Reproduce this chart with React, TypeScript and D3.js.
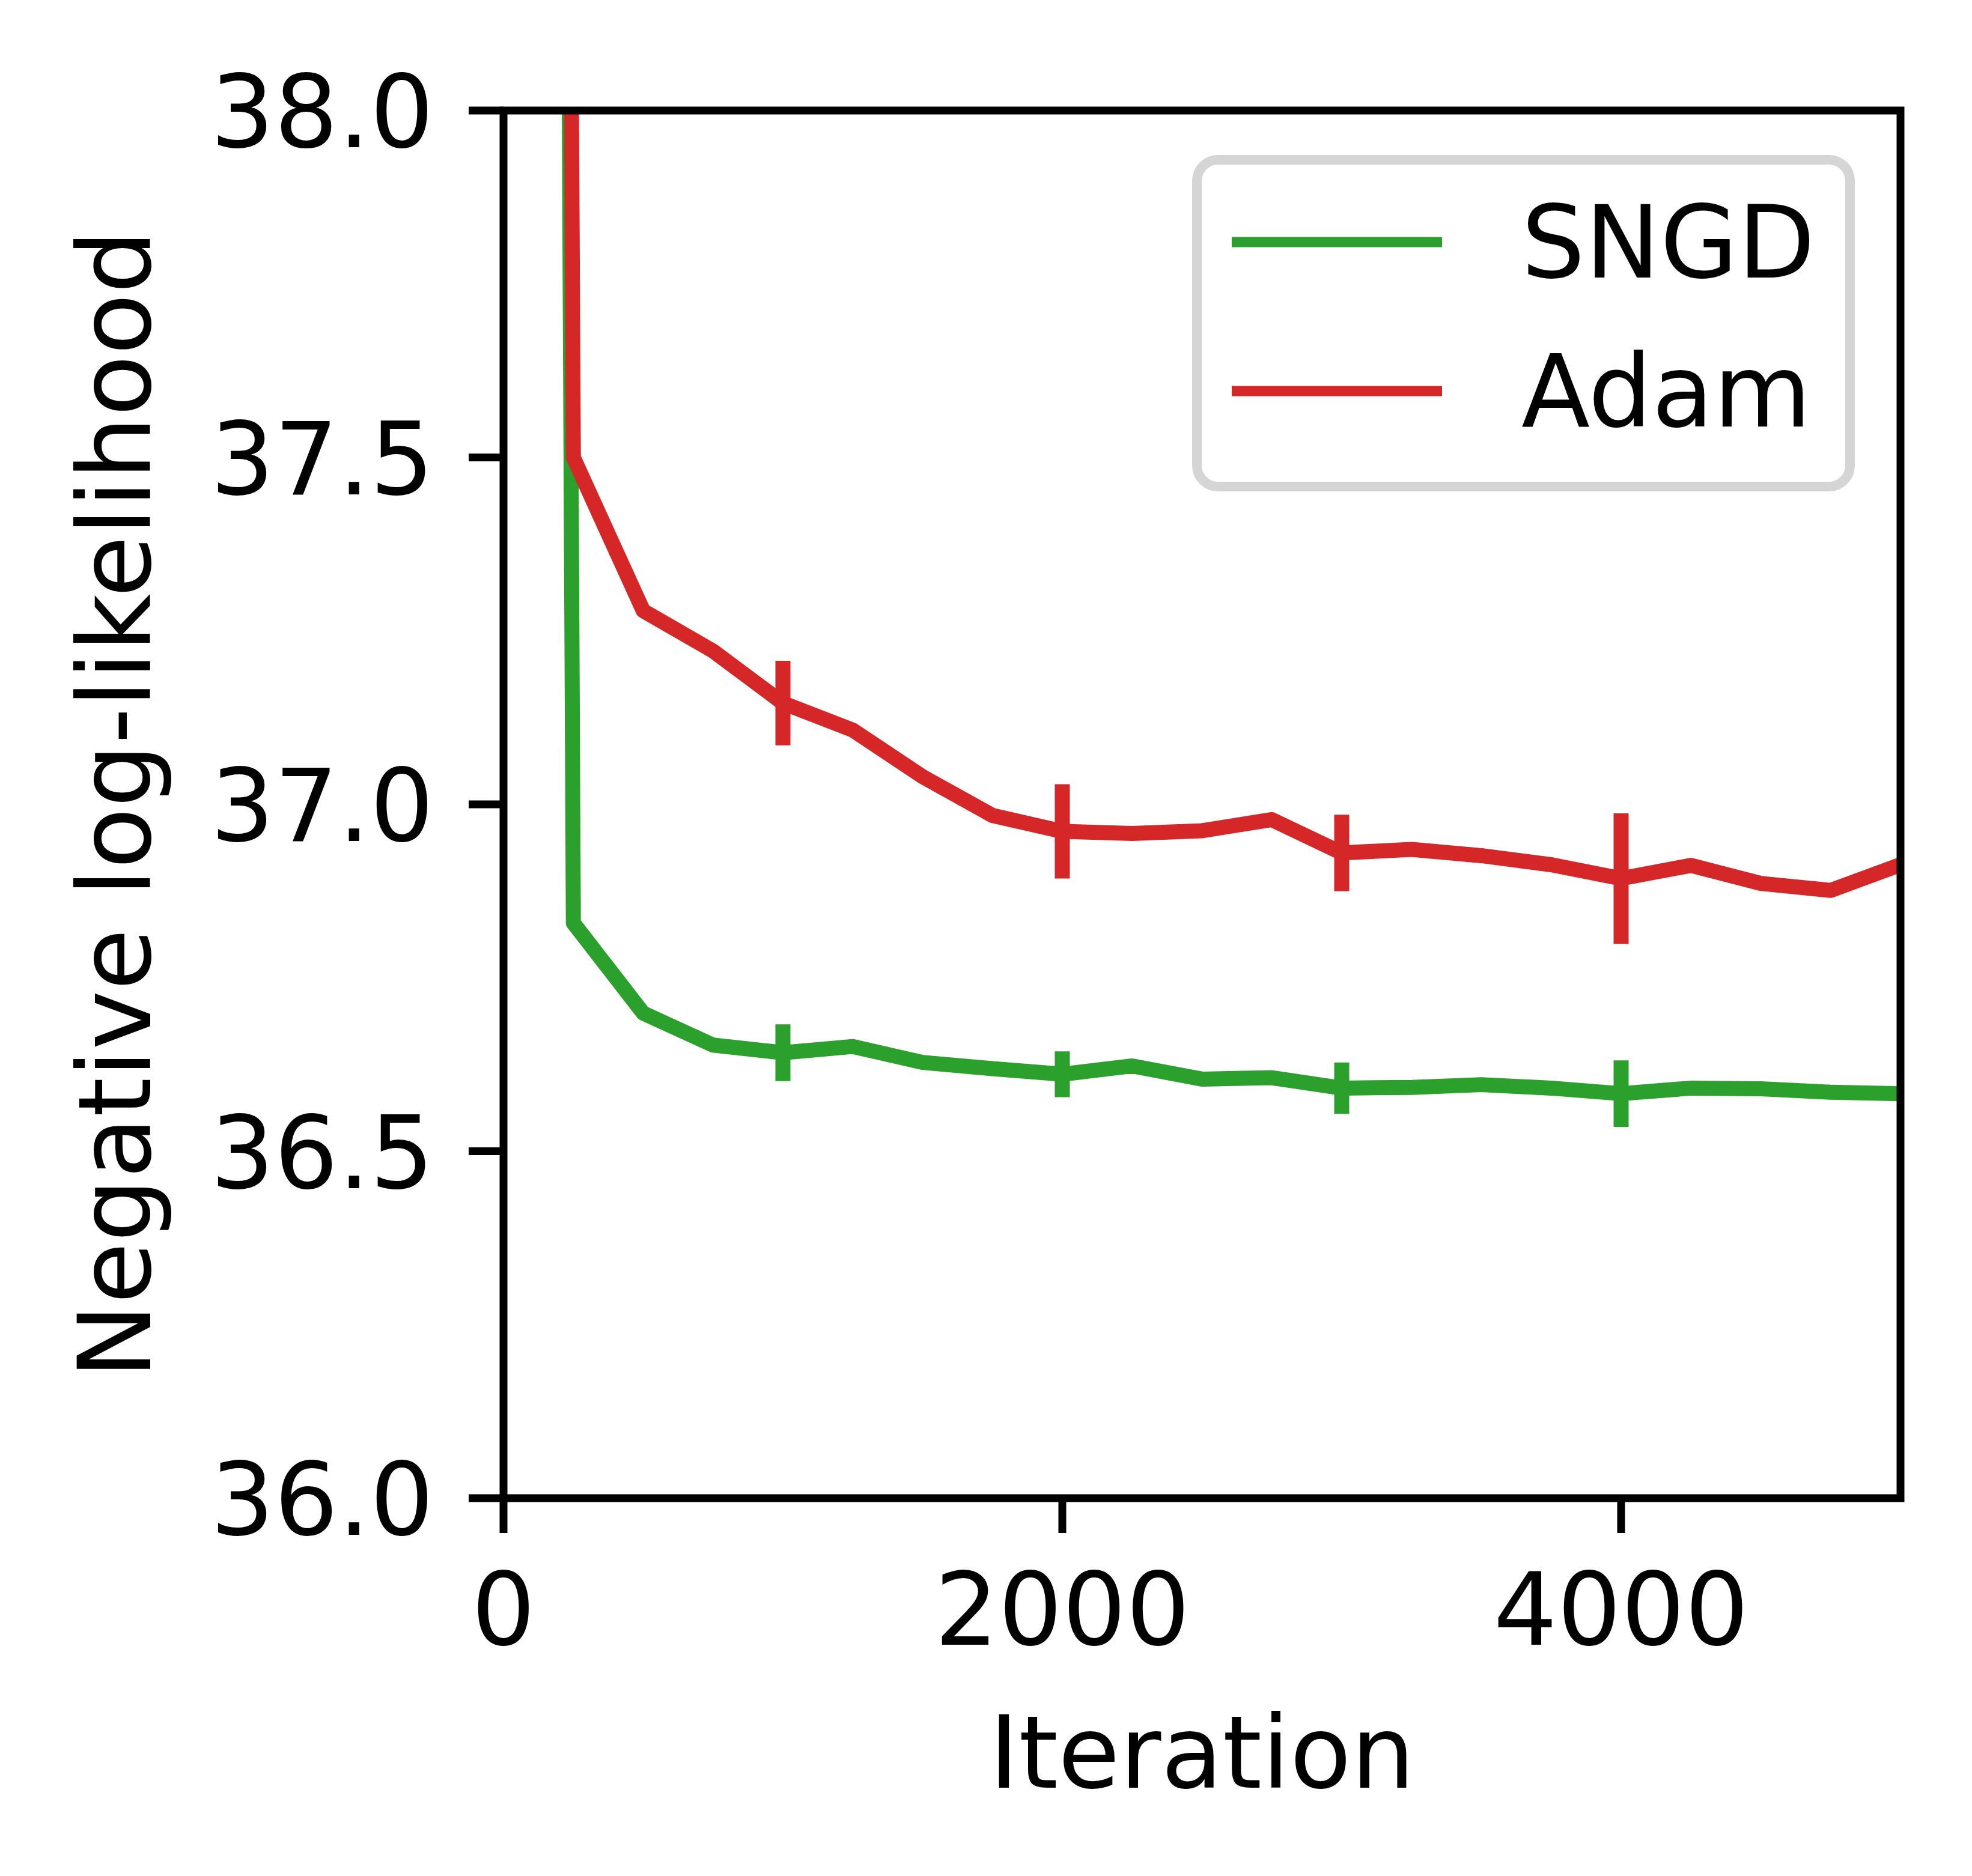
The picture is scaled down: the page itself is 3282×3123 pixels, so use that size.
import React from "react";
import * as d3 from "d3";

const iterations = [0, 250, 500, 750, 1000, 1250, 1500, 1750, 2000, 2250, 2500, 2750, 3000, 3250, 3500, 3750, 4000, 4250, 4500, 4750, 5000];
const sngd = [57, 36.829, 36.699, 36.653, 36.642, 36.651, 36.628, 36.619, 36.611, 36.623, 36.604, 36.606, 36.591, 36.592, 36.596, 36.591, 36.583, 36.591, 36.590, 36.585, 36.583];
const adam = [56, 37.5, 37.279, 37.221, 37.146, 37.107, 37.040, 36.984, 36.961, 36.958, 36.962, 36.978, 36.930, 36.935, 36.926, 36.913, 36.893, 36.912, 36.886, 36.876, 36.913];
const errorIters = [1000, 2000, 3000, 4000];
const sngdErr = [0.041, 0.033, 0.037, 0.048];
const adamErr = [0.061, 0.068, 0.055, 0.094];
const xTicks = [0, 2000, 4000];
const yTicks = [36.0, 36.5, 37.0, 37.5, 38.0];
const seriesNames = ["SNGD", "Adam"];
const seriesColors = ["#2ca02c", "#d62728"];

const W = 3282;
const H = 3123;
const L = 838, R = 3163, T = 184, B = 2494;
const FS = 167;
const FONT = "DejaVu Sans, sans-serif";

export default function App() {
  const x = d3.scaleLinear().domain([0, 5000]).range([L, R]);
  const y = d3.scaleLinear().domain([36, 38]).range([B, T]);
  const line = d3
    .line<number>()
    .x((_, i) => x(iterations[i]))
    .y((d) => y(d));
  const series = [sngd, adam];
  const errs = [sngdErr, adamErr];

  return (
    <svg
      width={W}
      height={H}
      viewBox={`0 0 ${W} ${H}`}
      style={{ position: "absolute", left: 0, top: 0, background: "#fff" }}
    >
      <rect x={0} y={0} width={W} height={H} fill="#fff" />
      <defs>
        <clipPath id="plotclip">
          <rect x={L} y={T} width={R - L} height={B - T} />
        </clipPath>
      </defs>
      <g clipPath="url(#plotclip)">
        {series.map((s, si) => (
          <g key={si}>
            <path
              d={line(s) || ""}
              fill="none"
              stroke={seriesColors[si]}
              strokeWidth={25}
              strokeLinejoin="round"
            />
            {errorIters.map((it, ei) => {
              const idx = iterations.indexOf(it);
              const v = s[idx];
              const e = errs[si][ei];
              return (
                <line
                  key={ei}
                  x1={x(it)}
                  x2={x(it)}
                  y1={y(v - e)}
                  y2={y(v + e)}
                  stroke={seriesColors[si]}
                  strokeWidth={25}
                />
              );
            })}
          </g>
        ))}
      </g>
      <rect x={L} y={T} width={R - L} height={B - T} fill="none" stroke="#000" strokeWidth={13} strokeLinejoin="miter" />
      {yTicks.map((t) => (
        <g key={t}>
          <line x1={L - 58} x2={L} y1={y(t)} y2={y(t)} stroke="#000" strokeWidth={13} />
          <text
            x={L - 116}
            y={y(t) + 61}
            textAnchor="end"
            fontFamily={FONT}
            fontSize={FS}
            fill="#000"
          >
            {t.toFixed(1)}
          </text>
        </g>
      ))}
      {xTicks.map((t) => (
        <g key={t}>
          <line x1={x(t)} x2={x(t)} y1={B} y2={B + 58} stroke="#000" strokeWidth={13} />
          <text x={x(t)} y={2738} textAnchor="middle" fontFamily={FONT} fontSize={FS} fill="#000">
            {t}
          </text>
        </g>
      ))}
      <text x={(L + R) / 2} y={2976} textAnchor="middle" fontFamily={FONT} fontSize={FS} fill="#000">
        Iteration
      </text>
      <text
        transform={`translate(250, ${(T + B) / 2}) rotate(-90)`}
        textAnchor="middle"
        fontFamily={FONT}
        fontSize={FS}
        fill="#000"
      >
        Negative log-likelihood
      </text>
      <rect
        x={1992}
        y={266}
        width={3079 - 1992}
        height={810 - 266}
        rx={35}
        ry={35}
        fill="#fff"
        fillOpacity={0.8}
        stroke="#d5d5d5"
        strokeWidth={16}
      />
      {seriesNames.map((name, i) => {
        const ly = 403 + i * 248;
        return (
          <g key={name}>
            <line x1={2050} x2={2400} y1={ly} y2={ly} stroke={seriesColors[i]} strokeWidth={17} />
            <text x={2532} y={ly + 59} fontFamily={FONT} fontSize={FS} fill="#000">
              {name}
            </text>
          </g>
        );
      })}
    </svg>
  );
}
